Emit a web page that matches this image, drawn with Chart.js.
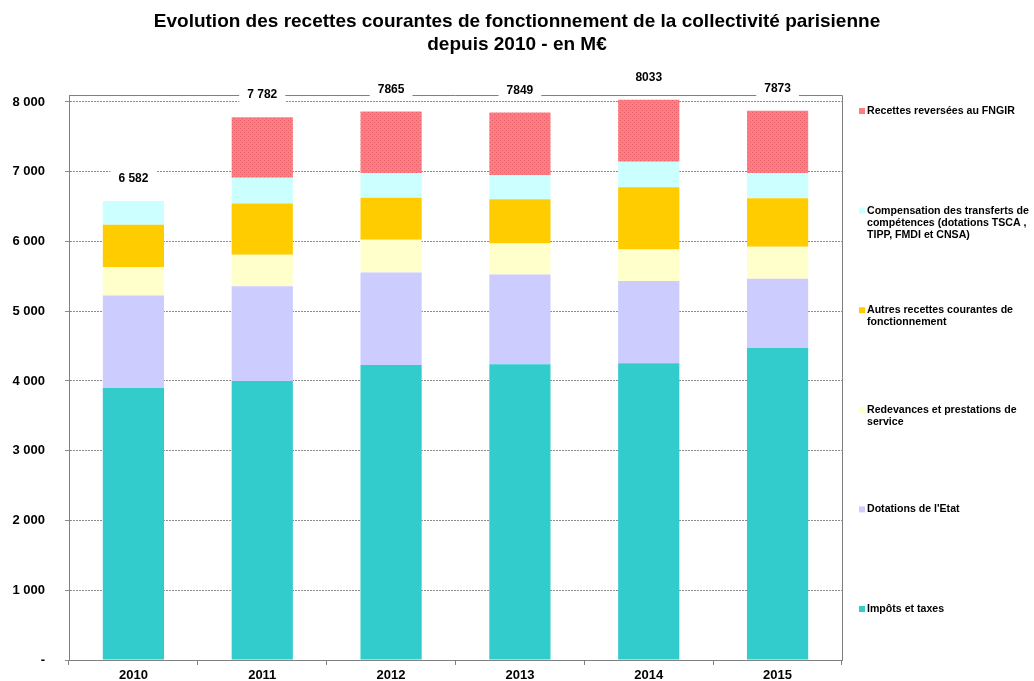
<!DOCTYPE html>
<html>
<head>
<meta charset="utf-8">
<script src="https://cdn.jsdelivr.net/npm/chart.js@4.4.0/dist/chart.umd.min.js"></script>
<style>
    html, body { margin: 0; padding: 0; background: #ffffff; overflow: hidden; }
    canvas { display: block; }
</style>
</head>
<body>
<canvas id="grafico" width="1034" height="681"></canvas>
<script>
const annees = ['2010', '2011', '2012', '2013', '2014', '2015'];
const impots = [3900, 4000, 4229, 4239, 4253, 4473];
const dotations = [1325, 1358, 1325, 1287, 1182, 991];
const redevances = [407, 451, 470, 445, 450, 460];
const autres = [607, 735, 602, 635, 893, 696];
const compensation = [343, 370, 355, 347, 365, 361];
const fngir = [null, 868, 884, 896, 890, 892];
const totaux = ['6 582', '7 782', '7865', '7849', '8033', '7873'];
const graduations = [0, 1000, 2000, 3000, 4000, 5000, 6000, 7000, 8000];
const etiquettesY = ['-', '1 000', '2 000', '3 000', '4 000', '5 000', '6 000', '7 000', '8 000'];
const titre = ['Evolution des recettes courantes de fonctionnement de la collectivité parisienne', 'depuis 2010 - en M€'];
const libelles = [
    'Impôts et taxes',
    "Dotations de l'Etat",
    'Redevances et prestations de\nservice',
    'Autres recettes courantes de\nfonctionnement',
    'Compensation des transferts de\ncompétences (dotations TSCA ,\nTIPP, FMDI et CNSA)',
    'Recettes reversées au FNGIR'
];

const police = "'Liberation Sans', Arial, sans-serif";
const ctx = document.getElementById("grafico").getContext("2d");

// motif pointillé pour le FNGIR
function motifPoints() {
    const c = document.createElement('canvas');
    c.width = 4; c.height = 4;
    const p = c.getContext('2d');
    p.fillStyle = '#FF7C80';
    p.fillRect(0, 0, 4, 4);
    p.fillStyle = '#E5606A';
    p.fillRect(0, 0, 1, 1);
    p.fillRect(2, 2, 1, 1);
    return ctx.createPattern(c, 'repeat');
}

const couleurs = ['#33CCCC', '#CCCCFF', '#FFFFCC', '#FFCC00', '#CCFFFF', motifPoints()];
const legendeCouleurs = ['#33CCCC', '#CCCCFF', '#FFFFCC', '#FFCC00', '#CCFFFF', '#FF7C80'];
const series = [impots, dotations, redevances, autres, compensation, fngir];

const cadreEtTotaux = {
    id: 'cadreEtTotaux',
    afterDatasetsDraw(chart) {
        const a = chart.chartArea;
        const c = chart.ctx;
        c.save();
        c.strokeStyle = '#808080';
        c.lineWidth = 1;
        c.beginPath();
        c.moveTo(a.left, a.top + 0.5);
        c.lineTo(a.right + 0.5, a.top + 0.5);
        c.lineTo(a.right + 0.5, a.bottom);
        c.stroke();

        c.font = 'bold 12px ' + police;
        c.textAlign = 'center';
        c.textBaseline = 'middle';
        annees.forEach((an, i) => {
            let somme = 0;
            series.forEach(s => { somme += s[i] || 0; });
            const x = chart.scales.x.getPixelForValue(i);
            const y = chart.scales.y.getPixelForValue(somme) - 22;
            const w = c.measureText(totaux[i]).width + 16;
            c.fillStyle = '#ffffff';
            c.fillRect(x - w / 2, y - 9, w, 18);
            c.fillStyle = '#000000';
            c.fillText(totaux[i], x, y);
        });
        c.restore();
    },
    afterDraw(chart) {
        const c = chart.ctx;
        c.save();
        // titre centré sur toute la largeur
        c.fillStyle = '#000000';
        c.textAlign = 'center';
        c.textBaseline = 'middle';
        c.font = 'bold 19px ' + police;
        titre.forEach((t, j) => c.fillText(t, chart.width / 2, 22 + j * 23));

        // légende à droite, ordre inversé
        c.font = 'bold 10.6px ' + police;
        c.textAlign = 'left';
        const x0 = chart.chartArea.right + 17;
        let y = chart.chartArea.top + 16;
        for (let k = libelles.length - 1; k >= 0; k--) {
            c.fillStyle = legendeCouleurs[k];
            c.fillRect(x0, y - 3, 6, 6);
            c.fillStyle = '#000000';
            libelles[k].split('\n').forEach((ligne, j) => {
                c.fillText(ligne, x0 + 8, y + j * 12);
            });
            y += 99.6;
        }
        c.restore();
    }
};

const myChart = new Chart(ctx, {
    type: 'bar',
    data: {
        labels: annees,
        datasets: series.map((s, k) => ({
            label: libelles[k].replace(/\n/g, ' '),
            data: s,
            backgroundColor: couleurs[k],
            borderWidth: 0,
            categoryPercentage: 1.0,
            barPercentage: 0.475
        }))
    },
    options: {
        responsive: false,
        animation: false,
        layout: { padding: { top: 95, right: 192, bottom: 0, left: 0 } },
        scales: {
            x: {
                stacked: true,
                grid: { offset: true, drawOnChartArea: false, drawTicks: true, tickLength: 5, color: '#808080' },
                border: { color: '#808080', width: 1 },
                ticks: { color: '#000000', padding: 3, font: { family: police, size: 13, weight: 'bold' } },
                afterFit: axis => { axis.height = 21; }
            },
            y: {
                stacked: true,
                min: 0,
                max: 8100,
                afterBuildTicks: axis => { axis.ticks = graduations.map(v => ({ value: v })); },
                afterFit: axis => {
                    axis.width = 69;
                    axis.paddingTop = 8;
                    axis.paddingBottom = 8;
                },
                grid: { color: '#8c8c8c', lineWidth: 1, tickLength: 4 },
                border: { color: '#808080', width: 1, dash: [2, 1] },
                ticks: {
                    color: '#000000',
                    padding: 20,
                    font: { family: police, size: 13, weight: 'bold' },
                    callback: v => etiquettesY[graduations.indexOf(v)]
                }
            }
        },
        plugins: {
            legend: { display: false },
            tooltip: { enabled: false },
            title: { display: false }
        }
    },
    plugins: [cadreEtTotaux]
});
</script>
</body>
</html>
